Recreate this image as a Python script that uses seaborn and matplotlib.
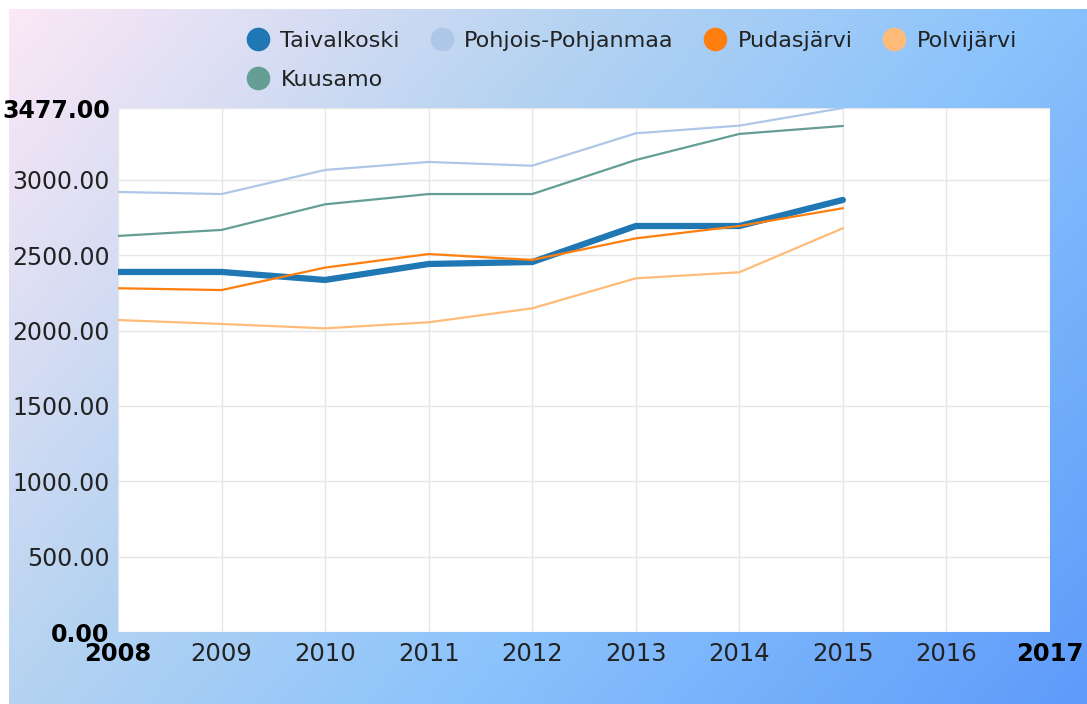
import numpy as np
import pandas as pd
import matplotlib
matplotlib.use("Agg")
import matplotlib.pyplot as plt
from matplotlib.colors import LinearSegmentedColormap
from matplotlib.lines import Line2D
import seaborn as sns

years = [2008, 2009, 2010, 2011, 2012, 2013, 2014, 2015]
taivalkoski = [2389, 2389, 2336, 2442, 2455, 2694, 2694, 2867]
pohjois_pohjanmaa = [2920, 2906, 3066, 3119, 3094, 3309, 3360, 3477]
pudasjarvi = [2281, 2269, 2418, 2508, 2469, 2612, 2694, 2812]
polvijarvi = [2070, 2044, 2015, 2055, 2148, 2347, 2387, 2679]
kuusamo = [2628, 2668, 2838, 2906, 2906, 3132, 3305, 3358]

series_names = ["Taivalkoski", "Pohjois-Pohjanmaa", "Pudasjärvi", "Polvijärvi", "Kuusamo"]
series_values = [taivalkoski, pohjois_pohjanmaa, pudasjarvi, polvijarvi, kuusamo]
colors = ["#1f77b4", "#aec7e8", "#ff7f0e", "#ffbb78", "#659e94"]
widths = [4.5, 1.6, 1.6, 1.6, 1.6]

y_ticks = [0, 500, 1000, 1500, 2000, 2500, 3000, 3477]
x_ticks = list(range(2008, 2018))

W, H = 1087, 704


def build_frame():
    rows = []
    for name, vals in zip(series_names, series_values):
        for yr, v in zip(years, vals):
            rows.append({"year": yr, "value": v, "series": name})
    return pd.DataFrame(rows)


def draw_background(fig):
    bg = fig.add_axes([9 / W, 0, 1 - 9 / W, 1 - 9 / H], zorder=-10)
    cmap = LinearSegmentedColormap.from_list(
        "bg",
        [(0.0, "#fce8f6"), (0.35, "#b5d3f1"), (0.62, "#8bc3fc"), (1.0, "#5e9bfa")],
    )
    u = np.linspace(0, 1, 400)[None, :]
    v = np.linspace(0, 1, 300)[:, None]
    t = 0.65 * u + 0.35 * v
    bg.imshow(cmap(t), aspect="auto", extent=[0, 1, 1, 0], interpolation="bilinear")
    bg.set_axis_off()


def main():
    df = build_frame()
    sns.set_theme(style="whitegrid")
    plt.rcParams["font.family"] = ["DejaVu Sans"]

    fig = plt.figure(figsize=(W / 100, H / 100), dpi=100)
    fig.patch.set_facecolor("white")
    draw_background(fig)

    ax = fig.add_axes([118 / W, 72 / H, 932 / W, 524 / H])
    ax.set_facecolor("white")
    for name, color, lw in zip(series_names, colors, widths):
        sns.lineplot(data=df[df["series"] == name], x="year", y="value",
                     color=color, linewidth=lw, ax=ax, legend=False)

    ax.set_xlim(2008, 2017)
    ax.set_ylim(0, 3477)
    ax.set_xticks(x_ticks)
    ax.set_yticks(y_ticks)
    ax.set_xticklabels([str(x) for x in x_ticks])
    ax.set_yticklabels([f"{y:.2f}" for y in y_ticks])
    ax.grid(True, color="#e6e6e6", linewidth=1)
    for s in ax.spines.values():
        s.set_visible(False)
    ax.tick_params(axis="both", length=0, colors="#222222")
    ax.tick_params(axis="x", pad=7, labelsize=17.5)
    ax.tick_params(axis="y", pad=6, labelsize=17)
    for lbl in [ax.get_xticklabels()[0], ax.get_xticklabels()[-1],
                ax.get_yticklabels()[0], ax.get_yticklabels()[-1]]:
        lbl.set_fontweight("bold")
        lbl.set_color("black")
    ax.set_xlabel("")
    ax.set_ylabel("")

    # matplotlib fills legend columns first, so put Kuusamo second to land on row 2
    order = [0, 4, 1, 2, 3]
    handles = [Line2D([], [], marker="o", linestyle="none", markersize=16,
                      markerfacecolor=colors[i], markeredgecolor=colors[i]) for i in order]
    labels = [series_names[i] for i in order]
    fig.legend(handles, labels, loc="upper left", ncol=4,
               bbox_to_anchor=(236 / W, 1 - 31 / H), frameon=False,
               fontsize=16, handletextpad=0.0, columnspacing=0.88,
               labelspacing=0.86, borderaxespad=0, borderpad=0,
               labelcolor="#222222")

    fig.savefig("out.png", dpi=100)
    plt.close(fig)


if __name__ == "__main__":
    main()
